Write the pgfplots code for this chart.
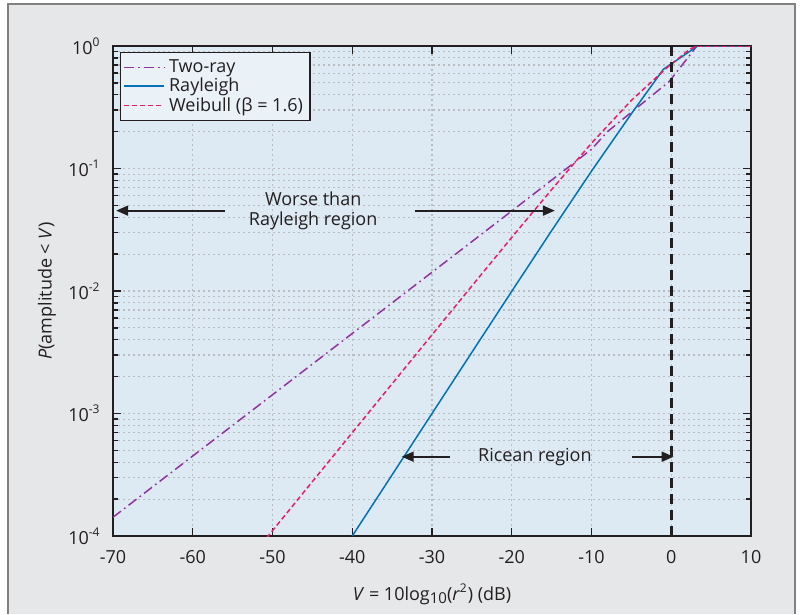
\documentclass[border=0pt]{standalone}
\usepackage{fontspec}
\setmainfont{Open Sans}
\usepackage{pgfplots}
\pgfplotsset{compat=1.18}
\usetikzlibrary{arrows.meta,backgrounds}

\definecolor{figBg}{RGB}{230,231,232}
\definecolor{axisBg}{RGB}{221,234,244}
\definecolor{legBg}{RGB}{234,241,247}
\definecolor{gridCol}{RGB}{185,188,192}
\definecolor{tworay}{RGB}{146,50,160}
\definecolor{rayleigh}{RGB}{0,114,188}
\definecolor{weibull}{RGB}{236,28,100}
\definecolor{ink}{RGB}{35,31,32}

\pgfplotstableread{
V P
-70 1.423e-4
-60 4.50e-4
-50 1.423e-3
-40 4.50e-3
-30 0.01423
-20 0.0450
-10 0.1436
-8 0.200
-0.3 0.51
2.2 0.82
3.2 1
10 1
}\tworay

\pgfplotstableread{
V P
-40 1.0e-4
-35 3.16e-4
-30 1.0e-3
-25 3.16e-3
-20 0.00995
-15 0.0311
-10 0.0952
-5 0.28
-1 0.645
3.3 1
10 1
}\rayleigh

\pgfplotstableread{
V P
-52 7.65e-5
-50 1.106e-4
-45 2.78e-4
-40 6.98e-4
-35 1.75e-3
-30 4.39e-3
-25 0.0110
-20 0.0274
-15 0.0673
-10 0.161
-5 0.36
-0.6 0.66
2.3 0.94
3.2 1
10 1
}\weibull

\begin{document}
\fontsize{9}{10}\selectfont
\begin{tikzpicture}
\begin{axis}[
    name=ax,
    scale only axis,
    width=319pt, height=245pt,
    xmin=-70, xmax=10,
    ymin=1e-4, ymax=1,
    ymode=log,
    axis background/.style={fill=axisBg},
    axis line style={ink, line width=0.8pt},
    xtick={-70,-60,...,10},
    xticklabels={-70,-60,-50,-40,-30,-20,-10,0,10},
    ytick={1e-4,1e-3,1e-2,1e-1,1},
    yticklabels={10\textsuperscript{-4},10\textsuperscript{-3},10\textsuperscript{-2},10\textsuperscript{-1},10\textsuperscript{0}},
    tick label style={font=\fontsize{9}{10}\selectfont, text=ink},
    yticklabel style={xshift=-3pt},
    xticklabel style={yshift=-4pt},
    label style={font=\fontsize{9}{10}\selectfont, text=ink},
    xlabel style={yshift=-4pt},
    tick align=inside, tick pos=both,
    major tick length=4pt, minor tick length=2.5pt,
    every tick/.style={ink, line width=0.7pt},
    xmajorgrids, ymajorgrids, yminorgrids,
    major grid style={gridCol, line width=0.6pt, dash pattern=on 1pt off 1.5pt},
    minor grid style={gridCol, line width=0.6pt, dash pattern=on 1pt off 1.5pt},
    xlabel={\textit{V} = 10log\raisebox{-0.35ex}{\fontsize{7.5}{8}\selectfont 10}(\textit{r}\textsuperscript{2}) (dB)},
    ylabel={\textit{P}(amplitude < \textit{V})},
    legend style={at={(0.011,0.988)}, anchor=north west,
        draw=ink, line width=0.6pt, fill=legBg,
        font=\fontsize{9}{10}\selectfont, text=ink,
        inner sep=1.5pt, row sep=-2.5pt},
    legend cell align=left,
    legend image code/.code={\draw[#1] (0pt,0pt) -- (20pt,0pt);},
]
    \addplot[tworay, line width=0.75pt, dash pattern=on 5pt off 2pt on 0.8pt off 2pt] table[x=V, y=P] {\tworay};
    \addlegendentry{Two-ray}
    \addplot[rayleigh, line width=0.75pt] table[x=V, y=P] {\rayleigh};
    \addlegendentry{Rayleigh}
    \addplot[weibull, line width=0.75pt, dash pattern=on 2.5pt off 1.5pt] table[x=V, y=P] {\weibull};
    \addlegendentry{Weibull (β = 1.6)}

    \draw[ink, line width=1.5pt, dash pattern=on 5pt off 3pt] (axis cs:0,1e-4) -- (axis cs:0,1);

    \draw[ink, line width=0.9pt, -{Triangle[length=6pt, width=5pt]}] (axis cs:-56,0.0453) -- (axis cs:-69.6,0.0453);
    \draw[ink, line width=0.9pt, -{Triangle[length=6pt, width=5pt]}] (axis cs:-32.1,0.0453) -- (axis cs:-14.6,0.0453);
    \node[text=ink, align=center] at (axis cs:-44.9,0.0453) {Worse than\\Rayleigh region};

    \draw[ink, line width=0.9pt, -{Triangle[length=6pt, width=5pt]}] (axis cs:-27.7,4.44e-4) -- (axis cs:-33.8,4.44e-4);
    \draw[ink, line width=0.9pt, -{Triangle[length=6pt, width=5pt]}] (axis cs:-4.9,4.44e-4) -- (axis cs:0.3,4.44e-4);
    \node[text=ink] at (axis cs:-17.1,4.44e-4) {Ricean region};
\end{axis}

\begin{scope}[on background layer]
    \fill[figBg] ([shift={(-52.5pt,-39pt)}]ax.south west) rectangle ([shift={(22pt,21pt)}]ax.north east);
    \draw[gray, line width=0.6pt] ([shift={(-52.5pt,-39pt)}]ax.south west) |- ([shift={(22pt,21pt)}]ax.north east) -- ([shift={(22pt,-39pt)}]ax.south east);
\end{scope}
\pgfresetboundingbox
\path ([shift={(-56.5pt,-39pt)}]ax.south west) rectangle ([shift={(26pt,23pt)}]ax.north east);
\end{tikzpicture}
\end{document}
